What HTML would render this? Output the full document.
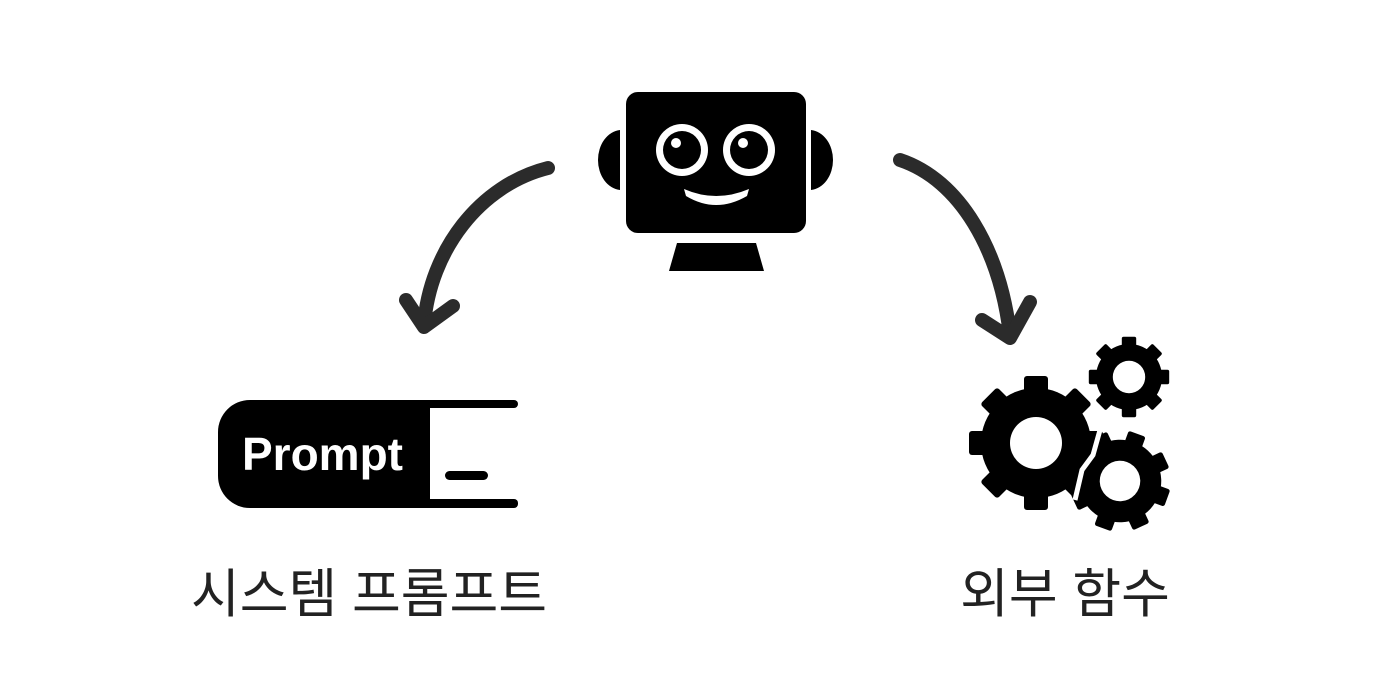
<!DOCTYPE html>
<html><head><meta charset="utf-8"><style>
html,body{margin:0;padding:0;background:#fff;}
body{width:1400px;height:700px;position:relative;overflow:hidden;font-family:"Liberation Sans","Noto Sans CJK KR",sans-serif;}
.lbl{position:absolute;font-size:53px;line-height:76px;color:#222;white-space:nowrap;transform:translateX(-50%);top:557px;font-weight:400;}
</style></head><body>
<svg width="1400" height="700" style="position:absolute;left:0;top:0">
<g fill="none" stroke="#2b2b2b" stroke-width="14" stroke-linecap="round" stroke-linejoin="round">
<path d="M548,168 C480,185 430,250 424,325"/>
<path d="M406,300 L424,327 L453,306"/>
<path d="M900,160 C960,180 1000,250 1010,335"/>
<path d="M982,320 L1010,338 L1030,302"/>
</g>
<path d="M598,160 A24,30 0 0 1 620,130 L620,190 A24,30 0 0 1 598,160 Z" fill="#000"/>
<path d="M833,160 A24,30 0 0 0 811,130 L811,190 A24,30 0 0 0 833,160 Z" fill="#000"/>
<rect x="626" y="92" width="180" height="141" rx="12" fill="#000"/>
<circle cx="682" cy="150" r="26" fill="#fff"/><circle cx="682" cy="150" r="19" fill="#000"/><circle cx="676" cy="143" r="5" fill="#fff"/>
<circle cx="749" cy="150" r="26" fill="#fff"/><circle cx="749" cy="150" r="19" fill="#000"/><circle cx="743" cy="143" r="5" fill="#fff"/>
<path d="M684,189 Q716,203 749,189 L747,196 Q716,214 686,196 Z" fill="#fff"/>
<path d="M677,243 L756,243 L764,271 L669,271 Z" fill="#000"/>
<path d="M250,400 L430,400 L430,508 L250,508 A32,32 0 0 1 218,476 L218,432 A32,32 0 0 1 250,400 Z" fill="#000"/>
<rect x="426" y="400" width="92" height="8" rx="4" fill="#000"/>
<rect x="426" y="499" width="92" height="9" rx="4" fill="#000"/>
<rect x="445" y="471" width="43" height="9" rx="4.5" fill="#000"/>
<text x="242" y="470" font-family="Liberation Sans, sans-serif" font-weight="bold" font-size="46" fill="#fff">Prompt</text>
<g fill="#000">
 <g transform="translate(1036,443)">
  <circle r="55"/>
  <g id="t8"><rect x="-12" y="-67" width="24" height="20" rx="3"/><rect x="-12" y="-67" width="24" height="20" rx="3" transform="rotate(45)"/><rect x="-12" y="-67" width="24" height="20" rx="3" transform="rotate(90)"/><rect x="-12" y="-67" width="24" height="20" rx="3" transform="rotate(135)"/><rect x="-12" y="-67" width="24" height="20" rx="3" transform="rotate(180)"/><rect x="-12" y="-67" width="24" height="20" rx="3" transform="rotate(225)"/><rect x="-12" y="-67" width="24" height="20" rx="3" transform="rotate(270)"/><rect x="-12" y="-67" width="24" height="20" rx="3" transform="rotate(315)"/></g>
  <circle r="26" fill="#fff"/>
 </g>
 <g transform="translate(1129,377) scale(0.6)">
  <circle r="55"/><use href="#t8"/><circle r="27" fill="#fff"/>
 </g>
 <g transform="translate(1120,481) scale(0.75) rotate(20)">
  <circle r="55"/><use href="#t8"/><circle r="27" fill="#fff"/>
 </g>
 <path d="M1100,430 L1093,455 L1082,470 L1075,500" stroke="#fff" stroke-width="5" fill="none"/>
</g>
</svg>
<div class="lbl" style="left:369px">시스템 프롬프트</div>
<div class="lbl" style="left:1065px">외부 함수</div>
</body></html>
